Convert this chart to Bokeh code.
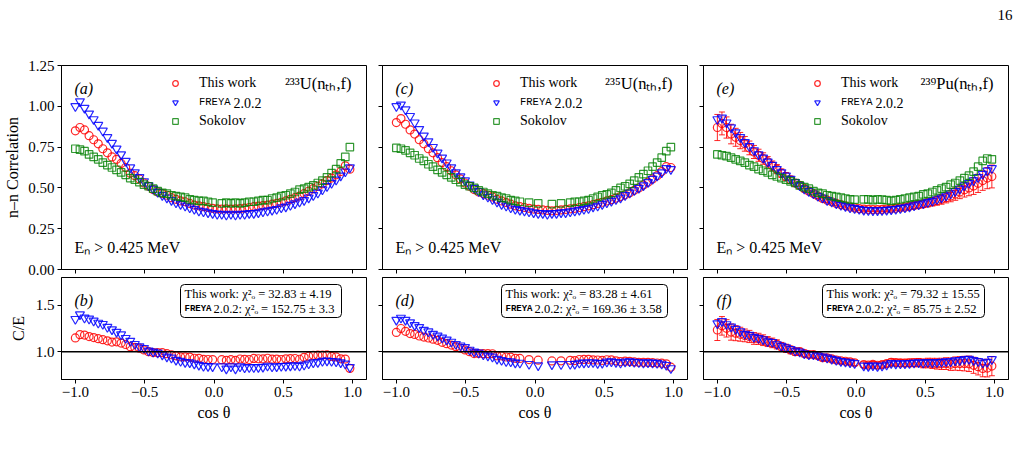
import numpy as np
from bokeh.plotting import figure
from bokeh.layouts import column, row
from bokeh.models import (Range1d, FixedTicker, Label, Legend, LegendItem, Span,
                          BoxAnnotation, ColumnDataSource, Whisker, TeeHead,
                          CustomJSTickFormatter)
from bokeh.embed import file_html
from bokeh.resources import INLINE

nan = float("nan")

# cos(theta) bin positions shared by every panel
COS_THETA = [
    -1.000, -0.967, -0.934, -0.901, -0.868, -0.835, -0.802, -0.769, -0.736, -0.703,
    -0.670, -0.637, -0.604, -0.571, -0.538, -0.505, -0.472, -0.439, -0.406, -0.373,
    -0.340, -0.307, -0.274, -0.241, -0.208, -0.175, -0.142, -0.109, -0.076, -0.043,
    -0.010, 0.023, 0.056, 0.089, 0.122, 0.155, 0.188, 0.221, 0.254, 0.287,
    0.320, 0.353, 0.386, 0.419, 0.452, 0.485, 0.518, 0.551, 0.584, 0.617,
    0.650, 0.683, 0.716, 0.749, 0.782, 0.815, 0.848, 0.881, 0.914, 0.947,
    0.980,
]

# 233U(nth,f)
U233_THIS_WORK = [
    0.850, 0.870, 0.855, 0.820, 0.795, 0.770, 0.740, 0.715, 0.690, 0.675,
    0.650, 0.625, 0.590, 0.575, 0.555, 0.530, 0.510, 0.490, 0.475, 0.465,
    0.455, 0.440, 0.430, 0.420, 0.415, 0.405, 0.395, 0.390, 0.385, 0.380,
    0.375, 0.372, 0.370, 0.372, 0.370, 0.372, 0.373, 0.376, 0.380, 0.385,
    0.388, 0.392, 0.395, 0.400, 0.405, 0.412, 0.420, 0.430, 0.440, 0.450,
    0.465, 0.480, 0.495, 0.510, 0.525, 0.545, 0.560, 0.580, 0.600, 0.635,
    0.615,
]
U233_FREYA = [
    1.000, 1.030, 0.990, 0.955, 0.920, 0.885, 0.850, 0.810, 0.775, 0.740,
    0.705, 0.665, 0.625, 0.595, 0.565, 0.540, 0.515, 0.495, 0.475, 0.455,
    0.440, 0.425, 0.410, 0.400, 0.390, 0.380, 0.370, 0.360, 0.355, 0.350,
    0.345, 0.340, 0.340, 0.335, 0.340, 0.335, 0.340, 0.340, 0.345, 0.345,
    0.350, 0.355, 0.360, 0.365, 0.370, 0.380, 0.385, 0.395, 0.405, 0.415,
    0.425, 0.440, 0.455, 0.470, 0.490, 0.510, 0.530, 0.550, 0.575, 0.600,
    0.625,
]
U233_SOKOLOV = [
    0.740, 0.735, 0.725, 0.705, 0.690, 0.675, 0.655, 0.640, 0.625, 0.610,
    0.595, 0.580, 0.560, 0.550, 0.535, 0.520, 0.510, 0.495, 0.480, 0.470,
    0.465, 0.455, 0.450, 0.445, 0.440, 0.430, 0.425, 0.420, 0.420, 0.415,
    0.410, nan, 0.405, 0.410, 0.405, 0.410, 0.405, 0.410, 0.415, 0.415,
    0.420, 0.425, 0.425, 0.435, 0.440, 0.450, 0.455, 0.465, 0.475, 0.490,
    0.495, 0.505, 0.515, 0.530, 0.545, 0.565, 0.590, 0.615, 0.650, 0.690,
    0.750,
]

# 235U(nth,f)
U235_THIS_WORK = [
    0.900, 0.925, 0.890, 0.855, 0.830, 0.795, 0.770, 0.740, 0.715, 0.685,
    0.655, 0.630, 0.605, 0.580, 0.555, 0.530, 0.510, 0.490, 0.475, 0.465,
    0.455, 0.445, 0.430, 0.420, 0.410, 0.400, 0.390, 0.385, 0.380, 0.375,
    0.370, 0.368, 0.365, 0.362, 0.360, 0.362, 0.365, 0.368, 0.372, 0.375,
    0.380, 0.385, 0.390, 0.397, 0.405, 0.412, 0.420, 0.428, 0.437, 0.447,
    0.458, 0.470, 0.485, 0.500, 0.518, 0.535, 0.555, 0.575, 0.600, 0.630,
    0.625,
]
U235_FREYA = [
    1.000, 1.010, 0.980, 0.940, 0.900, 0.860, 0.820, 0.785, 0.750, 0.715,
    0.685, 0.655, 0.625, 0.595, 0.570, 0.545, 0.520, 0.500, 0.480, 0.460,
    0.445, 0.430, 0.415, 0.400, 0.390, 0.380, 0.370, 0.365, 0.360, 0.355,
    0.350, 0.345, 0.345, 0.340, 0.345, 0.345, 0.350, 0.350, 0.355, 0.360,
    0.365, 0.370, 0.375, 0.385, 0.390, 0.400, 0.410, 0.420, 0.430, 0.440,
    0.455, 0.470, 0.485, 0.500, 0.515, 0.535, 0.555, 0.575, 0.595, 0.620,
    0.615,
]
U235_SOKOLOV = [
    0.745, 0.740, 0.730, 0.715, 0.700, 0.680, 0.665, 0.645, 0.630, 0.610,
    0.595, 0.580, 0.565, 0.550, 0.535, 0.520, 0.510, 0.500, 0.485, 0.475,
    0.465, 0.455, 0.450, 0.440, 0.435, 0.425, 0.420, 0.415, nan, 0.410,
    nan, 0.405, nan, nan, 0.400, nan, 0.405, nan, 0.410, 0.415,
    0.415, 0.420, 0.425, 0.435, 0.445, 0.455, 0.460, 0.470, 0.485, 0.500,
    0.510, 0.525, 0.545, 0.565, 0.585, 0.605, 0.630, 0.655, 0.685, 0.725,
    0.750,
]

# 239Pu(nth,f)
PU239_THIS_WORK = [
    0.870, 0.895, 0.870, 0.830, 0.810, 0.790, 0.770, 0.745, 0.720, 0.700,
    0.680, 0.660, 0.635, 0.615, 0.590, 0.570, 0.550, 0.530, 0.515, 0.495,
    0.480, 0.465, 0.450, 0.435, 0.425, 0.415, 0.405, 0.397, 0.390, 0.383,
    0.377, 0.373, 0.370, 0.368, 0.367, 0.367, 0.368, 0.370, 0.372, 0.375,
    0.378, 0.382, 0.387, 0.392, 0.397, 0.402, 0.408, 0.415, 0.422, 0.430,
    0.440, 0.450, 0.462, 0.475, 0.488, 0.500, 0.512, 0.528, 0.545, 0.560,
    0.570,
]
PU239_THIS_WORK_ERR = [
    0.080, 0.070, 0.065, 0.060, 0.055, 0.050, 0.045, 0.042, 0.040, 0.037,
    0.035, 0.032, 0.030, 0.028, 0.026, 0.024, 0.022, 0.020, 0.019, 0.018,
    0.017, 0.016, 0.015, 0.015, 0.014, 0.014, 0.014, 0.013, 0.013, 0.013,
    0.013, 0.013, 0.013, 0.013, 0.013, 0.014, 0.014, 0.014, 0.015, 0.015,
    0.016, 0.017, 0.018, 0.019, 0.020, 0.022, 0.024, 0.026, 0.028, 0.030,
    0.032, 0.035, 0.038, 0.041, 0.044, 0.048, 0.052, 0.056, 0.060, 0.065,
    0.070,
]
PU239_FREYA = [
    0.920, 0.930, 0.900, 0.870, 0.840, 0.810, 0.780, 0.755, 0.730, 0.705,
    0.685, 0.660, 0.640, 0.615, 0.595, 0.575, 0.555, 0.535, 0.515, 0.495,
    0.480, 0.465, 0.450, 0.440, 0.425, 0.415, 0.405, 0.395, 0.388, 0.380,
    0.375, 0.370, 0.365, 0.363, 0.362, 0.362, 0.363, 0.365, 0.368, 0.370,
    0.375, 0.380, 0.385, 0.392, 0.398, 0.405, 0.412, 0.420, 0.430, 0.440,
    0.452, 0.465, 0.480, 0.495, 0.515, 0.530, 0.545, 0.565, 0.585, 0.605,
    0.620,
]
PU239_SOKOLOV = [
    0.705, 0.700, 0.695, 0.685, 0.675, 0.665, 0.655, 0.640, 0.630, 0.615,
    0.605, 0.595, 0.580, 0.570, 0.560, 0.550, 0.540, 0.530, 0.515, 0.505,
    0.495, 0.480, 0.470, 0.465, 0.455, 0.450, 0.445, 0.440, 0.435, 0.430,
    0.428, nan, 0.430, 0.430, 0.425, 0.430, 0.428, 0.425, 0.420, 0.425,
    0.430, 0.435, 0.440, 0.445, 0.450, 0.460, 0.465, 0.475, 0.485, 0.495,
    0.505, 0.520, 0.530, 0.545, 0.560, 0.575, 0.600, 0.630, 0.665, 0.680,
    0.675,
]

TOP_TAGS = ["(a)", "(c)", "(e)"]
BOTTOM_TAGS = ["(b)", "(d)", "(f)"]
NUCLIDES = ["\u00b2\u00b3\u00b3U(n\u209c\u2095,f)", "\u00b2\u00b3\u2075U(n\u209c\u2095,f)",
            "\u00b2\u00b3\u2079Pu(n\u209c\u2095,f)"]
CHI2_THIS_WORK = ["32.83 \u00b1 4.19", "83.28 \u00b1 4.61", "79.32 \u00b1 15.55"]
CHI2_FREYA = ["152.75 \u00b1 3.3", "169.36 \u00b1 3.58", "85.75 \u00b1 2.52"]
X_TICKS = [-1.0, -0.5, 0.0, 0.5, 1.0]
TOP_Y_TICKS = [0.0, 0.25, 0.5, 0.75, 1.0, 1.25]
BOTTOM_Y_TICKS = [1.0, 1.5]
PAGE_NUMBER = "16"

SERIF = "Liberation Serif"
MONO = "Liberation Mono"
RED, BLUE, GREEN = "#ff0000", "#0000ff", "#008000"

PAGE_W = 1021
HEADER_H = 24
TOP_H, BOT_H = 204, 102
FRAME_W = 305


def fmt(digits):
    return CustomJSTickFormatter(
        code="return (tick < 0 ? '\u2212' : '') + Math.abs(tick).toFixed(%d);" % digits)


def make_fig(col, top):
    left = 61 if col == 0 else 15
    right = 13 if col == 2 else 1
    p = figure(frame_width=FRAME_W, frame_height=TOP_H if top else BOT_H,
               min_border_left=left, min_border_right=right,
               min_border_top=65 - HEADER_H if top else 1,
               min_border_bottom=7 if top else 75,
               x_range=Range1d(-1.1, 1.1),
               y_range=Range1d(0.0, 1.25) if top else Range1d(0.7, 1.8),
               output_backend="svg", toolbar_location=None, tools="")
    p.grid.visible = False
    p.background_fill_color = "white"
    p.border_fill_color = "white"
    p.outline_line_color = "black"
    p.outline_line_width = 1
    p.outline_line_alpha = 1.0
    for ax in (p.xaxis[0], p.yaxis[0]):
        ax.axis_line_color = "black"
        ax.major_tick_line_color = "black"
        ax.major_tick_out = 4
        ax.major_tick_in = 0
        ax.minor_tick_out = 0
        ax.minor_tick_in = 0
        ax.major_label_text_font = SERIF
        ax.major_label_text_font_size = "15px"
        ax.major_label_text_color = "black"
        ax.axis_label_text_font = SERIF
        ax.axis_label_text_font_style = "normal"
        ax.axis_label_text_font_size = "16px"
        ax.axis_label_text_color = "black"
    p.xaxis.ticker = FixedTicker(ticks=X_TICKS)
    p.yaxis.ticker = FixedTicker(ticks=TOP_Y_TICKS if top else BOTTOM_Y_TICKS)
    # x labels only under the lower row, y labels only on the first column
    for ax, show, digits in ((p.xaxis[0], not top, 1),
                             (p.yaxis[0], col == 0, 2 if top else 1)):
        if show:
            ax.formatter = fmt(digits)
            ax.major_label_standoff = 3
        else:
            ax.formatter = CustomJSTickFormatter(code="return '';")
            ax.major_label_text_font_size = "0px"
            ax.major_label_standoff = 0
    return p


def text(p, x, y_from_top, s, size, font=SERIF, style="normal", align="left"):
    p.add_layout(Label(x=x, y=p.frame_height - y_from_top, x_units="screen", y_units="screen",
                       text=s, text_font=font, text_font_size="%gpx" % size,
                       text_font_style=style, text_align=align, text_baseline="middle",
                       text_color="black"))


def legend_row(p, renderer, label, y_from_top, font, size):
    p.add_layout(Legend(items=[LegendItem(label=label, renderers=[renderer])],
                        location=(107, p.frame_height - y_from_top - 8),
                        glyph_width=14, glyph_height=16, label_height=16, label_width=10,
                        label_standoff=17, padding=0, margin=0, spacing=0,
                        border_line_color=None, background_fill_alpha=0.0,
                        label_text_font=font, label_text_font_size="%gpx" % size,
                        label_text_baseline="middle", label_text_color="black"))


def draw_markers(p, y_tw, y_fr, y_sk=None):
    x = np.array(COS_THETA)
    r_tw = p.scatter(x, y_tw, marker="circle", size=8, fill_color=None,
                     line_color=RED, line_width=1.2, line_alpha=0.85)
    r_fr = p.scatter(x, y_fr, marker="inverted_triangle", size=9, fill_color=None,
                     line_color=BLUE, line_width=1.2, line_alpha=0.85)
    r_sk = None
    if y_sk is not None:
        r_sk = p.scatter(x, y_sk, marker="square", size=7.5, fill_color=None,
                         line_color=GREEN, line_width=1.2, line_alpha=0.8)
    return r_tw, r_fr, r_sk


def error_bars(p, y, err):
    ok = np.isfinite(y) & np.isfinite(err)
    src = ColumnDataSource(dict(x=np.array(COS_THETA)[ok], upper=(y + err)[ok],
                                lower=(y - err)[ok]))
    head = dict(size=6, line_color=RED, line_width=1, line_alpha=0.85)
    p.add_layout(Whisker(source=src, base="x", upper="upper", lower="lower",
                         line_color=RED, line_width=1, line_alpha=0.85,
                         upper_head=TeeHead(**head), lower_head=TeeHead(**head)))


# page header strip carrying the page number
header = figure(frame_width=PAGE_W, frame_height=HEADER_H, min_border=0,
                x_axis_location=None, y_axis_location=None,
                x_range=Range1d(0, 1), y_range=Range1d(0, 1),
                output_backend="svg", toolbar_location=None, tools="")
header.grid.visible = False
header.outline_line_color = None
header.border_fill_color = "white"
header.add_layout(Label(x=PAGE_W - 9, y=HEADER_H - 14, x_units="screen", y_units="screen",
                        text=PAGE_NUMBER, text_font=SERIF, text_font_size="15px",
                        text_align="right", text_baseline="middle", text_color="black"))

series = [
    (U233_THIS_WORK, U233_FREYA, U233_SOKOLOV, None),
    (U235_THIS_WORK, U235_FREYA, U235_SOKOLOV, None),
    (PU239_THIS_WORK, PU239_FREYA, PU239_SOKOLOV, PU239_THIS_WORK_ERR),
]

top_row, bottom_row = [], []
for col, (tw, fr, sk, err) in enumerate(series):
    tw, fr, sk = (np.array(v, dtype=float) for v in (tw, fr, sk))

    # upper panel: n-n correlation
    pt = make_fig(col, True)
    if col == 0:
        pt.yaxis.axis_label = "n\u2013n Correlation"
        pt.yaxis.axis_label_standoff = 4
    if err is not None:
        error_bars(pt, tw, np.array(err))
    r_tw, r_fr, r_sk = draw_markers(pt, tw, fr, sk)
    legend_row(pt, r_tw, "This work", 18, SERIF, 14)
    legend_row(pt, r_fr, "FREYA", 37, MONO, 10.5)
    legend_row(pt, r_sk, "Sokolov", 56, SERIF, 14)
    text(pt, 172, 37, "2.0.2", 14)
    text(pt, 13, 23, TOP_TAGS[col], 16, style="italic")
    text(pt, FRAME_W - 15, 18, NUCLIDES[col], 16.5, align="right")
    text(pt, 13, TOP_H - 22, "E\u2099 > 0.425 MeV", 16)
    top_row.append(pt)

    # lower panel: calculation / experiment
    pb = make_fig(col, False)
    pb.xaxis.axis_label = "cos \u03b8"
    pb.xaxis.axis_label_standoff = 4
    if col == 0:
        pb.yaxis.axis_label = "C/E"
        pb.yaxis.axis_label_standoff = 6
    pb.add_layout(Span(location=1.0, dimension="width", line_color="black", line_width=1.5))
    if err is not None:
        error_bars(pb, tw / sk, np.array(err) / sk)
    draw_markers(pb, tw / sk, fr / sk)
    text(pb, 13, 23, BOTTOM_TAGS[col], 16, style="italic")
    box_right = [280, 285, 281][col]
    pb.add_layout(BoxAnnotation(left=119, right=box_right, top=BOT_H - 7, bottom=BOT_H - 40,
                                left_units="screen", right_units="screen",
                                top_units="screen", bottom_units="screen",
                                fill_color="white", fill_alpha=0.9,
                                line_color="black", line_alpha=1.0, line_width=1,
                                border_radius=4))
    text(pb, 123, 16, "This work: \u03c7\u00b2\u2092 = " + CHI2_THIS_WORK[col], 12.5)
    text(pb, 123, 31, "FREYA", 9, font=MONO, style="bold")
    text(pb, 152, 31, "2.0.2: \u03c7\u00b2\u2092 = " + CHI2_FREYA[col], 12.5)
    bottom_row.append(pb)

layout = column(header, row(*top_row, spacing=0), row(*bottom_row, spacing=0), spacing=0)

with open("out.html", "w") as f:
    f.write(file_html(layout, INLINE))
